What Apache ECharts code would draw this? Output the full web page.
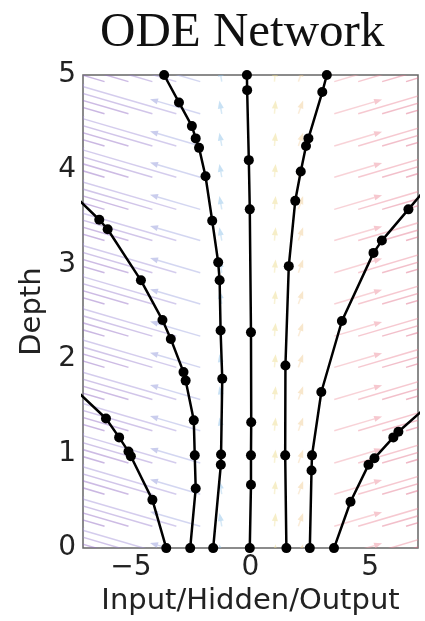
<!DOCTYPE html>
<html lang="en">
<head>
    <meta charset="UTF-8">
    <script src="https://cdn.jsdelivr.net/npm/echarts@6/dist/echarts.min.js"></script>
    <title>ODE Network</title>
    <style>
        html, body { margin: 0; padding: 0; background: #fff; }
        #chart { width: 425px; height: 621px; }
    </style>
</head>
<body>
    <div id="chart"></div>
    <script>
        // quiver field: column positions, arrow components per column, row positions
        var fieldX = [-6.1, -5.1, -4.1, -3.1, -2.1, -1.2, 1.0, 2.0, 3.5, 4.5, 5.5, 6.5];
        var fieldU = [-5.0, -4.6, -4.2, -4.2, -2.1, -0.1, 0.05, 0.2, 2.0, 3.6, 3.8, 4.0];
        var fieldV = [0.37, 0.34, 0.31, 0.31, 0.155, 0.14, 0.14, 0.14, 0.15, 0.27, 0.28, 0.30];
        var fieldRows = [-0.1, 0.23, 0.57, 0.9, 1.24, 1.57, 1.91, 2.24, 2.58, 2.91, 3.25, 3.58, 3.92, 4.25, 4.59, 4.93];

        // black trajectories (points = solver evaluations)
        var traj1 = [[-3.52, 0], [-4.1, 0.51], [-5.0, 0.97], [-5.1, 1.02], [-5.49, 1.17], [-6.04, 1.37], [-7.3, 1.67]];
        var traj2 = [[-2.52, 0], [-2.29, 0.63], [-2.33, 0.98], [-2.37, 1.35], [-2.71, 1.77], [-2.8, 1.86], [-3.33, 2.21],
                     [-3.68, 2.41], [-4.58, 2.83], [-5.97, 3.37], [-6.32, 3.47], [-7.3, 3.71]];
        var traj3 = [[-1.56, 0], [-1.24, 0.88], [-1.23, 0.99], [-1.18, 1.79], [-1.25, 2.3], [-1.29, 2.83], [-1.35, 3.02],
                     [-1.6, 3.46], [-1.88, 3.93], [-2.15, 4.23], [-2.29, 4.33], [-2.45, 4.46], [-2.99, 4.71], [-3.61, 5.0]];
        var traj4 = [[-0.03, 0], [0.02, 0.67], [0.02, 0.98], [0.03, 1.33], [0.02, 2.28], [-0.03, 3.58], [-0.07, 4.1],
                     [-0.14, 4.84], [-0.15, 5.0]];
        var traj5 = [[1.5, 0], [1.45, 0.98], [1.46, 1.93], [1.6, 2.98], [1.87, 3.67], [2.1, 3.98], [2.32, 4.25],
                     [2.42, 4.33], [3.0, 4.82], [3.19, 5.0]];
        var traj6 = [[2.48, 0], [2.55, 0.82], [2.57, 0.98], [2.96, 1.65], [3.82, 2.4], [5.14, 3.12], [5.49, 3.25],
                     [6.6, 3.58], [7.3, 3.79]];
        var traj7 = [[3.49, 0], [4.18, 0.49], [4.93, 0.88], [5.18, 0.95], [5.97, 1.17], [6.18, 1.23], [7.3, 1.48]];

        var xTickLabels = { '-5': '\u22125', '0': '0', '5': '5' };

        // colours / opacity of the field columns, purple -> blue -> yellow -> red
        var fieldColors = ['#8a5fbe', '#9068c4', '#9a7ecf', '#a08ed6', '#9ea4df', '#86bde6',
                           '#ecd986', '#f0c98e', '#ef9ba7', '#ea8597', '#e2718a', '#dc607f'];
        var fieldAlpha = [0.45, 0.45, 0.45, 0.45, 0.45, 0.35, 0.35, 0.35, 0.45, 0.45, 0.45, 0.45];

        var fieldData = [];
        for (var i = 0; i < fieldX.length; i++) {
            for (var j = 0; j < fieldRows.length; j++) {
                fieldData.push([fieldX[i], fieldRows[j], fieldU[i], fieldV[i], i]);
            }
        }

        function renderArrow(params, api) {
            var x = api.value(0), y = api.value(1), u = api.value(2), v = api.value(3);
            var k = api.value(4);
            var color = fieldColors[k], alpha = fieldAlpha[k];
            var p0 = api.coord([x, y]);
            var p1 = api.coord([x + u, y + v]);
            var dx = p1[0] - p0[0], dy = p1[1] - p0[1];
            var len = Math.sqrt(dx * dx + dy * dy) || 1;
            var ux = dx / len, uy = dy / len;
            var h = Math.min(8, len * 0.6), w = 3;
            var bx = p1[0] - ux * h, by = p1[1] - uy * h;
            return {
                type: 'group',
                children: [{
                    type: 'line',
                    shape: { x1: p0[0], y1: p0[1], x2: bx, y2: by },
                    style: { stroke: color, lineWidth: 1.5, opacity: alpha }
                }, {
                    type: 'polygon',
                    shape: { points: [[p1[0], p1[1]], [bx - uy * w, by + ux * w], [bx + uy * w, by - ux * w]] },
                    style: { fill: color, opacity: alpha + 0.1 }
                }]
            };
        }

        function trajSeries(data) {
            return {
                type: 'line',
                data: data,
                symbol: 'circle',
                symbolSize: 10,
                showAllSymbol: true,
                clip: true,
                z: 5,
                itemStyle: { color: '#000' },
                lineStyle: { color: '#000', width: 2.5 },
                silent: true
            };
        }

        var myChart = echarts.init(document.getElementById('chart'));
        var option = {
            animation: false,
            backgroundColor: '#fff',
            title: {
                text: 'ODE Network',
                left: 95,
                top: 4,
                textStyle: { fontFamily: 'Liberation Serif', fontSize: 49, fontWeight: 'normal', color: '#111' }
            },
            grid: {
                left: 83, right: 7, top: 75, bottom: 71,
                show: true, borderColor: '#666', borderWidth: 1.5, backgroundColor: 'transparent'
            },
            xAxis: {
                type: 'value', min: -7, max: 7, interval: 1,
                name: 'Input/Hidden/Output', nameLocation: 'middle', nameGap: 36,
                nameTextStyle: { fontFamily: 'DejaVu Sans', fontSize: 29, color: '#222' },
                axisLine: { show: false }, axisTick: { show: false }, splitLine: { show: false },
                axisLabel: {
                    fontFamily: 'DejaVu Sans', fontSize: 28, color: '#222', margin: 6,
                    formatter: function (val) { return xTickLabels[String(val)] || ''; }
                }
            },
            yAxis: {
                type: 'value', min: 0, max: 5, interval: 1,
                name: 'Depth', nameLocation: 'middle', nameGap: 30,
                nameTextStyle: { fontFamily: 'DejaVu Sans', fontSize: 29, color: '#222' },
                axisLine: { show: false }, axisTick: { show: false }, splitLine: { show: false },
                axisLabel: { fontFamily: 'DejaVu Sans', fontSize: 28, color: '#222', margin: 7 }
            },
            series: [{
                type: 'custom',
                renderItem: renderArrow,
                data: fieldData,
                clip: true,
                silent: true,
                z: 1
            },
            trajSeries(traj1), trajSeries(traj2), trajSeries(traj3), trajSeries(traj4),
            trajSeries(traj5), trajSeries(traj6), trajSeries(traj7)]
        };
        myChart.setOption(option);
    </script>
</body>
</html>
